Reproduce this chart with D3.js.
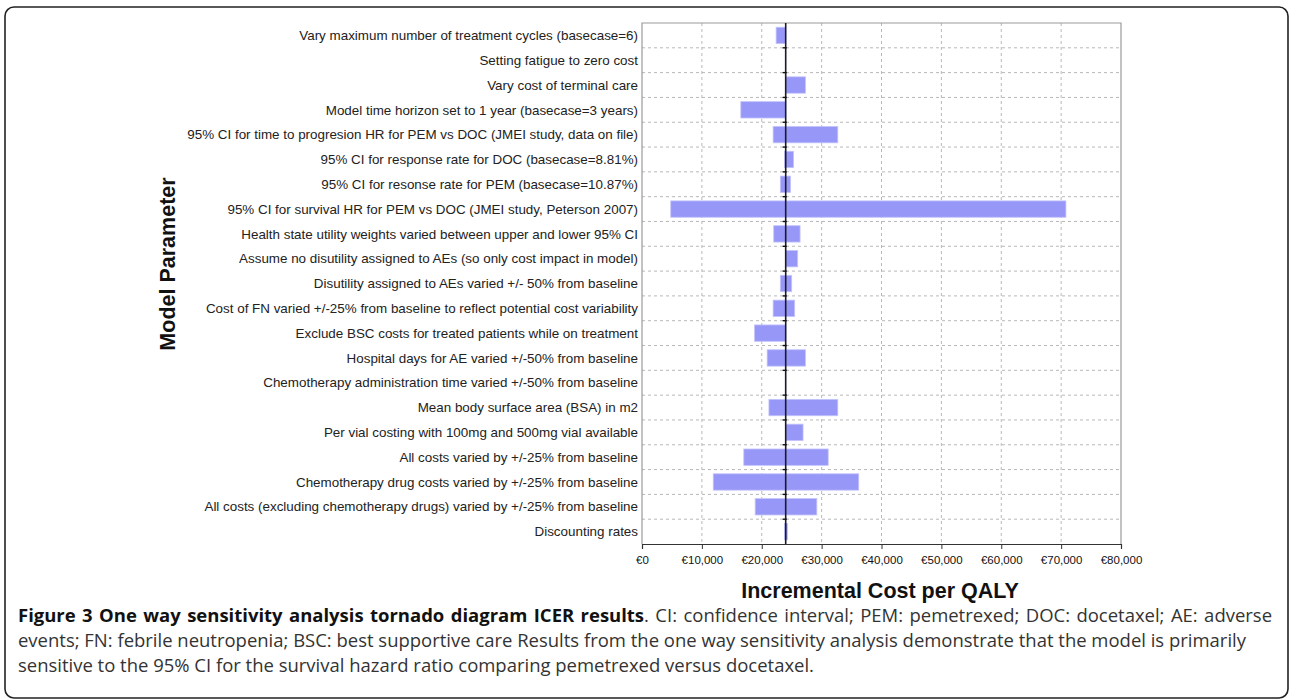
<!DOCTYPE html>
<html>
<head>
<meta charset="utf-8">
<script src="https://cdn.jsdelivr.net/npm/d3@7/dist/d3.min.js"></script>
<style>
  html, body { margin: 0; padding: 0; background: #fff; }
  svg { display: block; }
</style>
</head>
<body>
<svg id="chart" width="1289" height="700"></svg>
<script>
const categories = [
  "Vary maximum number of treatment cycles (basecase=6)",
  "Setting fatigue to zero cost",
  "Vary cost of terminal care",
  "Model time horizon set to 1 year (basecase=3 years)",
  "95% CI for time to progresion HR for PEM vs DOC (JMEI study, data on file)",
  "95% CI for response rate for DOC (basecase=8.81%)",
  "95% CI for resonse rate for PEM (basecase=10.87%)",
  "95% CI for survival HR for PEM vs DOC (JMEI study, Peterson 2007)",
  "Health state utility weights varied between upper and lower 95% CI",
  "Assume no disutility assigned to AEs (so only cost impact in model)",
  "Disutility assigned to AEs varied +/- 50% from baseline",
  "Cost of FN varied +/-25% from baseline to reflect potential cost variability",
  "Exclude BSC costs for treated patients while on treatment",
  "Hospital days for AE varied +/-50% from baseline",
  "Chemotherapy administration time varied +/-50% from baseline",
  "Mean body surface area (BSA) in m2",
  "Per vial costing with 100mg and 500mg vial available",
  "All costs varied by +/-25% from baseline",
  "Chemotherapy drug costs varied by +/-25% from baseline",
  "All costs (excluding chemotherapy drugs) varied by +/-25% from baseline",
  "Discounting rates"
];
const lowValues  = [22400, 24000, 24000, 16500, 21900, 23800, 23100, 4800, 22000, 24000, 23100, 21900, 18800, 20900, 24000, 21200, 24000, 17000, 11900, 18900, 23800];
const highValues = [24000, 24000, 27300, 24000, 32700, 25300, 24800, 70800, 26400, 26000, 25000, 25500, 24000, 27300, 24000, 32700, 26900, 31100, 36200, 29200, 24300];
const baseCase = 24000;
const xTicks = [0, 10000, 20000, 30000, 40000, 50000, 60000, 70000, 80000];
const xTitle = "Incremental Cost per QALY";
const yTitle = "Model Parameter";
const captionBold = "Figure 3 One way sensitivity analysis tornado diagram ICER results";
const captionLines = [
  ". CI: confidence interval; PEM: pemetrexed; DOC: docetaxel; AE: adverse",
  "events; FN: febrile neutropenia; BSC: best supportive care Results from the one way sensitivity analysis demonstrate that the model is primarily",
  "sensitive to the 95% CI for the survival hazard ratio comparing pemetrexed versus docetaxel."
];

const svg = d3.select("#chart");
const L = 642, R = 1121, T = 23, B = 544;
const sans = "'Liberation Sans', Arial, sans-serif";

// outer frame
svg.append("rect")
  .attr("x", 5).attr("y", 7).attr("width", 1283).attr("height", 691)
  .attr("rx", 9).attr("ry", 9)
  .attr("fill", "none").attr("stroke", "#222").attr("stroke-width", 1.6);

const x = d3.scaleLinear().domain([0, 80000]).range([L, R]);
const y = d3.scaleBand().domain(categories).range([T, B]).paddingInner(0.34).paddingOuter(0.17);
const rowStep = (B - T) / categories.length;

const g = svg.append("g");

// vertical grid
g.selectAll("line.vg").data(xTicks.slice(1, -1)).enter().append("line")
  .attr("x1", d => x(d)).attr("x2", d => x(d)).attr("y1", T).attr("y2", B)
  .attr("stroke", "#b8b8b8").attr("stroke-dasharray", "3,3").attr("stroke-width", 1);

// horizontal grid at row boundaries
const bounds = d3.range(1, categories.length);
g.selectAll("line.hg").data(bounds).enter().append("line")
  .attr("x1", L).attr("x2", R)
  .attr("y1", d => T + d * rowStep).attr("y2", d => T + d * rowStep)
  .attr("stroke", "#b8b8b8").attr("stroke-dasharray", "3,3").attr("stroke-width", 1);

// plot frame (left, top, right)
g.append("path")
  .attr("d", `M${L},${B} V${T} H${R} V${B}`)
  .attr("fill", "none").attr("stroke", "#9a9a9a").attr("stroke-width", 1.2);

// bars
g.selectAll("rect.bar").data(categories).enter().append("rect")
  .attr("x", (d, i) => x(lowValues[i]))
  .attr("width", (d, i) => Math.max(0, x(highValues[i]) - x(lowValues[i])))
  .attr("y", d => y(d))
  .attr("height", y.bandwidth())
  .attr("fill", "#9797f8")
  .attr("stroke", "#c4c4fb").attr("stroke-width", 0.8);

// x axis
const xAxis = d3.axisBottom(x).tickValues(xTicks).tickSize(5).tickPadding(7)
  .tickFormat(d => "€" + d3.format(",")(d));
const xa = svg.append("g").attr("transform", `translate(0,${B})`).call(xAxis);
xa.attr("font-family", sans).attr("font-size", 11.5);
xa.select(".domain").attr("stroke", "#333").attr("stroke-width", 1.2);
xa.selectAll(".tick line").attr("stroke", "#333");
xa.selectAll(".tick text").attr("fill", "#111");

// baseline axis line with ticks at row boundaries
svg.append("line")
  .attr("x1", x(baseCase)).attr("x2", x(baseCase)).attr("y1", T).attr("y2", B)
  .attr("stroke", "#1a1a2a").attr("stroke-width", 1.6);
svg.selectAll("line.bt").data(bounds).enter().append("line")
  .attr("x1", x(baseCase) - 3).attr("x2", x(baseCase) + 1)
  .attr("y1", d => T + d * rowStep).attr("y2", d => T + d * rowStep)
  .attr("stroke", "#111").attr("stroke-width", 1.4);

// category labels
svg.selectAll("text.cat").data(categories).enter().append("text")
  .attr("x", 638)
  .attr("y", d => y(d) + y.bandwidth() / 2)
  .attr("dy", "0.35em")
  .attr("text-anchor", "end")
  .attr("font-family", sans)
  .attr("font-size", 13.4)
  .attr("fill", "#222")
  .text(d => d);

// axis titles
svg.append("text")
  .attr("x", 880).attr("y", 598)
  .attr("text-anchor", "middle")
  .attr("font-family", sans)
  .attr("font-weight", "bold").attr("font-size", 21.5).attr("fill", "#111")
  .text(xTitle);

svg.append("text")
  .attr("transform", "translate(175,264) rotate(-90)")
  .attr("text-anchor", "middle")
  .attr("font-family", sans)
  .attr("font-weight", "bold").attr("font-size", 21.5).attr("fill", "#111")
  .text(yTitle);

// caption
const capFont = "'Open Sans', 'Noto Sans', sans-serif";
const cap1 = svg.append("text").attr("x", 18).attr("y", 622)
  .attr("font-family", capFont).attr("font-size", 15.5).attr("fill", "#333");
cap1.append("tspan").attr("font-weight", "bold").attr("fill", "#111").text(captionBold);
cap1.append("tspan").text(captionLines[0]);
const cap2 = svg.append("text").attr("x", 18).attr("y", 647)
  .attr("font-family", capFont).attr("font-size", 15.5).attr("fill", "#333")
  .text(captionLines[1]);
const cap3 = svg.append("text").attr("x", 18).attr("y", 672)
  .attr("font-family", capFont).attr("font-size", 15.5).attr("fill", "#333")
  .text(captionLines[2]);

// fit line 2 width to reference (ends ~1247); justify line 1 to ~1272
const w2 = cap2.node().getComputedTextLength();
const fs = 15.5 * (1229 / w2);
[cap1, cap2, cap3].forEach(c => c.attr("font-size", fs));
const w1 = cap1.node().getComputedTextLength();
const words1 = (captionBold + captionLines[0]).split(" ").length - 1;
if (w1 < 1254) cap1.attr("word-spacing", (1254 - w1) / words1);
</script>
</body>
</html>
